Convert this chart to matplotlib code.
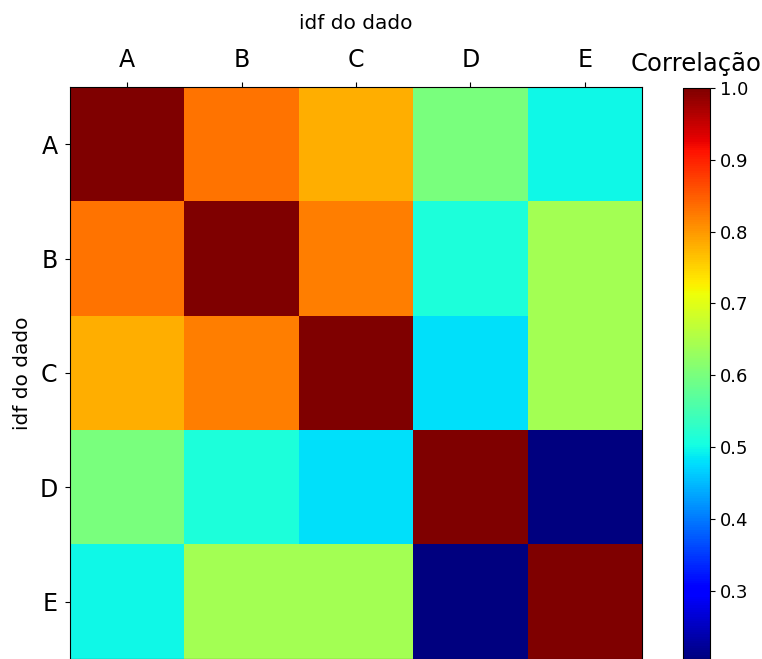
import numpy as np
import matplotlib
matplotlib.use("Agg")
import matplotlib.pyplot as plt

plt.rcParams["font.family"] = ["DejaVu Sans"]

labels = ["A", "B", "C", "D", "E"]
row_a = [1.00, 0.83, 0.78, 0.60, 0.50]
row_b = [0.83, 1.00, 0.82, 0.51, 0.64]
row_c = [0.78, 0.82, 1.00, 0.48, 0.64]
row_d = [0.60, 0.51, 0.48, 1.00, 0.205]
row_e = [0.50, 0.64, 0.64, 0.205, 1.00]
corr = np.array([row_a, row_b, row_c, row_d, row_e])

fig = plt.figure(figsize=(7.62, 6.59), dpi=100)
ax = fig.add_axes([70 / 762, 0, 572 / 762, 572 / 659])
cax = fig.add_axes([683 / 762, 0, 27 / 762, 571 / 659])

im = ax.imshow(corr, cmap="jet", aspect="auto", interpolation="nearest")

ax.set_xticks(range(len(labels)))
ax.set_yticks(range(len(labels)))
ax.set_xticklabels(labels, fontsize=17)
ax.set_yticklabels(labels, fontsize=17)
ax.xaxis.tick_top()
ax.xaxis.set_label_position("top")
ax.tick_params(axis="x", pad=7.5)
ax.tick_params(axis="y", pad=5.5)
ax.set_xlabel("idf do dado", fontsize=14.5, labelpad=13.5)
ax.set_ylabel("idf do dado", fontsize=14.5, labelpad=5)

cbar = fig.colorbar(im, cax=cax)
cbar.ax.tick_params(labelsize=13)
cax.set_title("Correlação", fontsize=17.5, pad=12)

fig.savefig("out.png", dpi=100)
